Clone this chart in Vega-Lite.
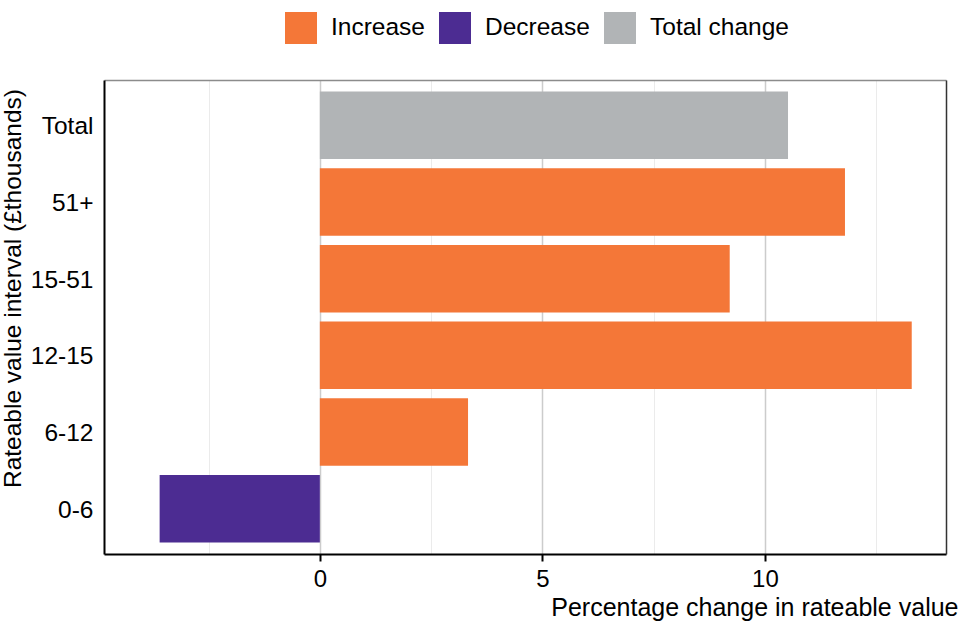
{
  "$schema": "https://vega.github.io/schema/vega-lite/v6.json",
  "autosize": "none",
  "width": 842,
  "height": 474,
  "padding": {"left": 104, "top": 80, "right": 14, "bottom": 86},
  "background": "white",
  "config": {
    "font": "Liberation Sans",
    "view": {"stroke": null},
    "axis": {"labelFont": "Liberation Sans", "titleFont": "Liberation Sans", "labelColor": "#000", "titleColor": "#000", "titleFontWeight": "normal"}
  },
  "data": {
    "values": [
      {"interval": "Total", "change": 10.52, "type": "Total change"},
      {"interval": "51+", "change": 11.8, "type": "Increase"},
      {"interval": "15-51", "change": 9.21, "type": "Increase"},
      {"interval": "12-15", "change": 13.3, "type": "Increase"},
      {"interval": "6-12", "change": 3.33, "type": "Increase"},
      {"interval": "0-6", "change": -3.6, "type": "Decrease"}
    ]
  },
  "layer": [
    {
      "mark": {"type": "bar", "opacity": 0},
      "encoding": {
        "x": {"field": "change", "type": "quantitative", "scale": {"domain": [-4.85, 14.07], "nice": false, "zero": false},
          "axis": {"orient": "top", "title": null, "labels": false, "ticks": false, "domain": true, "domainColor": "#8c8c8c", "domainWidth": 1.5,
            "values": [-2.5, 2.5, 7.5, 12.5], "grid": true, "gridColor": "#ebebeb", "gridWidth": 1}},
        "y": {"field": "interval", "type": "nominal", "sort": ["Total", "51+", "15-51", "12-15", "6-12", "0-6"],
          "scale": {"paddingInner": 0.12, "paddingOuter": 0.15},
          "axis": {"orient": "right", "title": null, "labels": false, "ticks": false, "domain": true, "domainColor": "#333", "domainWidth": 1.5, "grid": false}}
      }
    },
    {
      "mark": {"type": "bar"},
      "encoding": {
        "x": {"field": "change", "type": "quantitative", "scale": {"domain": [-4.85, 14.07], "nice": false, "zero": false},
          "axis": {"orient": "bottom", "title": "Percentage change in rateable value", "values": [0, 5, 10],
            "grid": true, "gridColor": "#cccccc", "gridWidth": 1.5,
            "domainColor": "#000", "domainWidth": 2, "tickColor": "#000", "tickWidth": 2, "tickSize": 7,
            "labelFontSize": 24, "labelPadding": 6, "titleFontSize": 25,
            "titleAnchor": null, "titleX": 854, "titleY": 53, "titleAlign": "right", "titleBaseline": "middle"}},
        "y": {"field": "interval", "type": "nominal", "sort": ["Total", "51+", "15-51", "12-15", "6-12", "0-6"],
          "axis": {"orient": "left", "title": "Rateable value interval (£thousands)", "ticks": false, "grid": false,
            "domainColor": "#000", "domainWidth": 2, "labelFontSize": 24.5, "labelPadding": 11, "labelOffset": 2, "titleFontSize": 24.5,
            "titleAnchor": null, "titleX": -91, "titleY": 208, "titleAngle": -90, "titleAlign": "center", "titleBaseline": "middle"}},
        "color": {"field": "type", "type": "nominal",
          "scale": {"domain": ["Increase", "Decrease", "Total change"], "range": ["#F47738", "#4C2C92", "#B1B4B6"]},
          "legend": {"title": null, "orient": "none", "direction": "horizontal", "legendX": 181, "legendY": -68,
            "symbolType": "square", "symbolSize": 1024, "symbolStrokeWidth": 0, "symbolOpacity": 1,
            "labelFontSize": 24.5, "labelFont": "Liberation Sans", "labelColor": "#000", "labelOffset": 14, "columnPadding": 14}}
      }
    }
  ],
  "resolve": {"axis": {"x": "independent", "y": "independent"}}
}
